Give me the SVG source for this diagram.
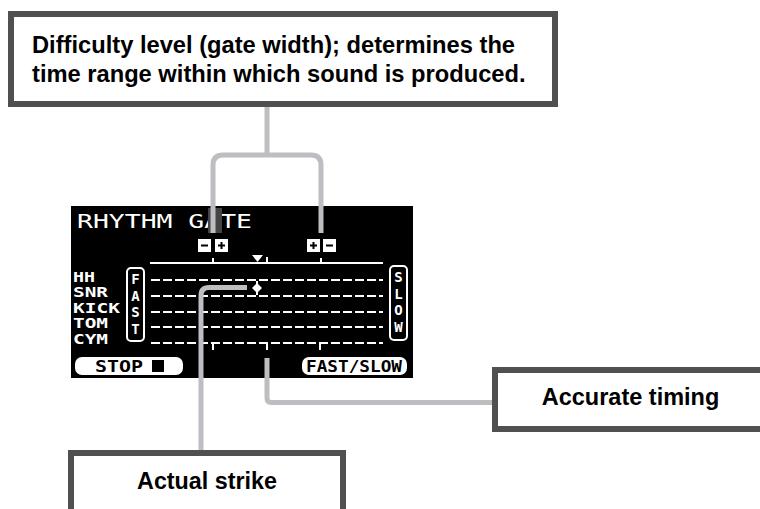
<svg xmlns="http://www.w3.org/2000/svg" width="760" height="509" viewBox="0 0 760 509">
<style>
.box{fill:#fff;stroke:#505050;stroke-width:6}
.lbl{font-family:"Liberation Sans",Arial,sans-serif;font-weight:bold;fill:#000}
.conn{fill:none;stroke:#bdbec2;stroke-width:5}
.lcd{font-family:"DejaVu Sans Mono",monospace;font-weight:bold;fill:#fff}
.lcdk{font-family:"DejaVu Sans Mono",monospace;font-weight:bold;fill:#000}
.dash{stroke:#fff;stroke-width:2;stroke-dasharray:9 3}
.wl{stroke:#fff;stroke-width:2}
</style>
<rect width="760" height="509" fill="#fff"/>

<g id="lcd-screen">
<rect x="71" y="206" width="342" height="172" fill="#000"/>
<text class="lcd" x="77" y="228" font-size="19" style="font-weight:normal" textLength="175" lengthAdjust="spacingAndGlyphs">RHYTHM GATE</text>
<rect x="208" y="208" width="14" height="25" fill="#444"/>
<g class="lcd" font-size="14">
<text x="73" y="282" textLength="22" lengthAdjust="spacingAndGlyphs">HH</text>
<text x="73" y="297" textLength="35" lengthAdjust="spacingAndGlyphs">SNR</text>
<text x="73" y="313" textLength="47" lengthAdjust="spacingAndGlyphs">KICK</text>
<text x="73" y="328" textLength="35" lengthAdjust="spacingAndGlyphs">TOM</text>
<text x="73" y="344" textLength="35" lengthAdjust="spacingAndGlyphs">CYM</text>
</g>
<!-- gate width buttons -->
<rect x="198" y="239" width="13" height="13" fill="#fff"/>
<rect x="201" y="244.5" width="7" height="2" fill="#000"/>
<rect x="215" y="239" width="13" height="13" fill="#fff"/>
<rect x="218" y="244.5" width="7" height="2" fill="#000"/>
<rect x="220.5" y="242" width="2" height="7" fill="#000"/>
<rect x="307" y="239" width="13" height="13" fill="#fff"/>
<rect x="310" y="244.5" width="7" height="2" fill="#000"/>
<rect x="312.5" y="242" width="2" height="7" fill="#000"/>
<rect x="323" y="239" width="13" height="13" fill="#fff"/>
<rect x="326" y="244.5" width="7" height="2" fill="#000"/>
<!-- top scale -->
<line class="wl" x1="150" y1="263" x2="383" y2="263"/>
<line class="wl" x1="213" y1="258" x2="213" y2="263"/>
<line class="wl" x1="267" y1="257" x2="267" y2="263"/>
<line class="wl" x1="321" y1="258" x2="321" y2="263"/>
<polygon points="252,255 263,255 257.5,262" fill="#fff"/>
<!-- rows -->
<line class="dash" x1="151" y1="280" x2="383" y2="280"/>
<line class="dash" x1="151" y1="296" x2="383" y2="296"/>
<line class="dash" x1="151" y1="312" x2="383" y2="312"/>
<line class="dash" x1="151" y1="327" x2="383" y2="327"/>
<line class="dash" x1="151" y1="343" x2="383" y2="343"/>
<line class="wl" x1="213" y1="343" x2="213" y2="350"/>
<line class="wl" x1="267" y1="343" x2="267" y2="350"/>
<line class="wl" x1="320" y1="343" x2="320" y2="350"/>
<!-- FAST / SLOW side boxes -->
<rect x="127" y="268" width="17" height="73" rx="4" fill="#000" stroke="#fff" stroke-width="2"/>
<g class="lcd" font-size="14" text-anchor="middle">
<text x="135.5" y="284">F</text><text x="135.5" y="300.5">A</text><text x="135.5" y="317">S</text><text x="135.5" y="333.5">T</text>
</g>
<rect x="390" y="266" width="17" height="74" rx="4" fill="#000" stroke="#fff" stroke-width="2"/>
<g class="lcd" font-size="14" text-anchor="middle">
<text x="398.5" y="282">S</text><text x="398.5" y="298.5">L</text><text x="398.5" y="315">O</text><text x="398.5" y="331.5">W</text>
</g>
<!-- buttons -->
<rect x="75" y="357" width="108" height="18" rx="7" fill="#fff"/>
<text class="lcdk" x="95" y="372" font-size="16" textLength="48" lengthAdjust="spacingAndGlyphs">STOP</text>
<rect x="152" y="360" width="12" height="12" fill="#000"/>
<rect x="302" y="357" width="105" height="18" rx="7" fill="#fff"/>
<text class="lcdk" x="306" y="372" font-size="15" textLength="96" lengthAdjust="spacingAndGlyphs">FAST/SLOW</text>
</g>

<g id="connectors">
<path class="conn" d="M267 107 V155"/>
<path class="conn" d="M213 233 V165 Q213 155 223 155 H311 Q321 155 321 165 V233"/>
<path class="conn" d="M247 287.5 H209 Q201 287.5 201 295.5 V451"/>
<path class="conn" d="M267 358 V398 Q267 402.5 271 402.5 H493"/>
</g>

<g id="strike-marker">
<line class="wl" x1="257" y1="281" x2="257" y2="295"/>
<polygon points="257,283 262,288 257,293 252,288" fill="#fff"/>
</g>

<g id="node-difficulty">
<rect class="box" x="11" y="14" width="544" height="90"/>
<text class="lbl" x="32" y="53" font-size="23.7">Difficulty level (gate width); determines the</text>
<text class="lbl" x="32" y="82" font-size="23.7">time range within which sound is produced.</text>
</g>

<g id="node-accurate">
<rect class="box" x="495" y="370" width="300" height="59"/>
<text class="lbl" x="630.5" y="405" font-size="23.5" text-anchor="middle">Accurate timing</text>
</g>

<g id="node-actual">
<rect class="box" x="71" y="453" width="272" height="80"/>
<text class="lbl" x="207" y="489" font-size="23.3" text-anchor="middle">Actual strike</text>
</g>
</svg>
